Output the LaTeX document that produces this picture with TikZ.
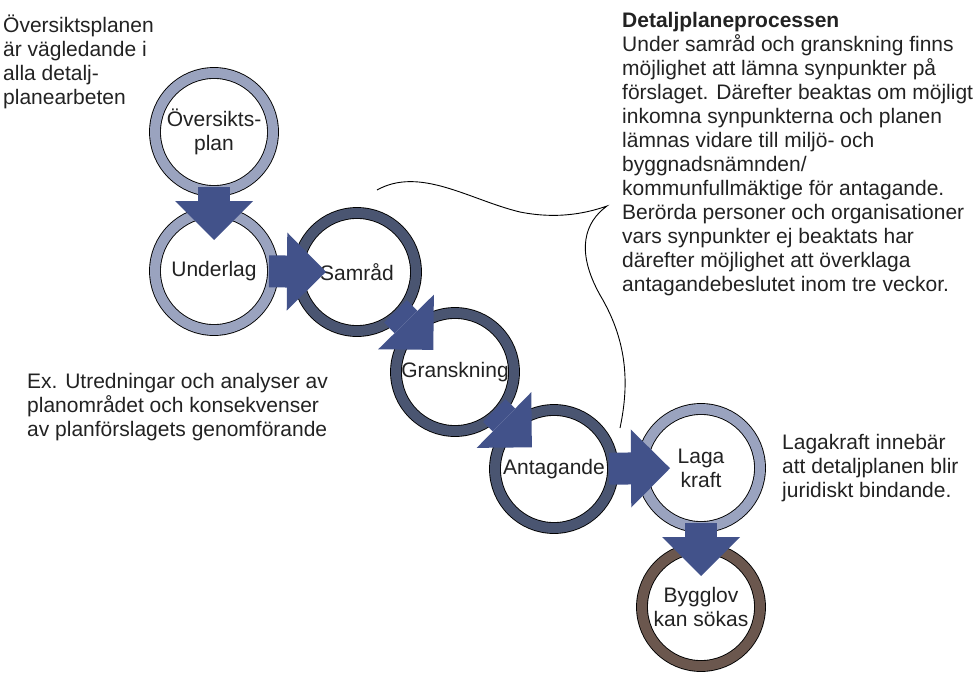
\documentclass[tikz,border=0pt]{standalone}
\usepackage{fontspec}
\setmainfont{Liberation Sans}
\usetikzlibrary{arrows.meta}
\definecolor{lightring}{HTML}{9AA3BF}
\definecolor{darkring}{HTML}{4A5571}
\definecolor{brownring}{HTML}{6B574E}
\definecolor{arrowblue}{HTML}{42528A}
\definecolor{textgray}{HTML}{222222}

\begin{document}
\begin{tikzpicture}[x=1pt, y=-1pt,
    every node/.style={text=textgray, font=\fontsize{21}{24}\selectfont},
    ring/.style={circle, draw=black, line width=0.9pt, double=#1, double distance=10pt,
        fill=white, minimum size=118pt, align=center, inner sep=0pt},
    bigarrow/.style={draw=arrowblue, line width=32pt,
        -{Triangle[length=39pt,width=78pt,line width=0pt]}, shorten <=55pt, shorten >=31pt},
    note/.style={anchor=north west, align=left, inner sep=0pt}]
    \useasboundingbox (0,0) rectangle (976,679);

    % Process circles
    \node at (214,132) [ring=lightring] (over) {Översikts-\\plan};
    \node at (214,271) [ring=lightring] (under) {Underlag};
    \node at (357,272) [ring=darkring] (samrad) {Samråd};
    \node at (455,372) [ring=darkring] (gransk) {Granskning};
    \node at (554,469) [ring=darkring] (antag) {Antagande};
    \node at (701,468) [ring=lightring] (laga) {Laga\\kraft};
    \node at (701,607) [ring=brownring] (bygg) {Bygglov\\kan sökas};

    % Block arrows
    \draw[bigarrow] (over.center) -- (under.center);
    \draw[bigarrow] (under.center) -- (samrad.center);
    \draw[bigarrow] (samrad.center) -- (gransk.center);
    \draw[bigarrow] (gransk.center) -- (antag.center);
    \draw[bigarrow] (antag.center) -- (laga.center);
    \draw[bigarrow] (laga.center) -- (bygg.center);

    % Bubble line round the process text
    \draw[line width=0.9pt] (377,190) .. controls (420,166) and (470,200) .. (520,212)
        .. controls (560,220) and (590,212) .. (607,206)
        .. controls (585,222) and (575,250) .. (600,295)
        .. controls (630,345) and (628,390) .. (620,428);

    % Texts
    \node at (3,15) [note] (overnote) {Översiktsplanen\\är vägledande i\\alla detalj-\\planearbeten};
    \node at (622,12) [note] (processnote) {\textbf{Detaljplaneprocessen}\\
        Under samråd och granskning finns\\möjlighet att lämna synpunkter på\\
        förslaget. Därefter beaktas om möjligt\\inkomna synpunkterna och planen\\
        lämnas vidare till miljö- och\\byggnadsnämnden/\\
        kommunfullmäktige för antagande.\\Berörda personer och organisationer\\
        vars synpunkter ej beaktats har\\därefter möjlighet att överklaga\\
        antagandebeslutet inom tre veckor.};
    \node at (27,373) [note] (undernote) {Ex. Utredningar och analyser av\\
        planområdet och konsekvenser\\av planförslagets genomförande};
    \node at (782,434) [note] (laganote) {Lagakraft innebär\\att detaljplanen blir\\juridiskt bindande.};
\end{tikzpicture}
\end{document}
